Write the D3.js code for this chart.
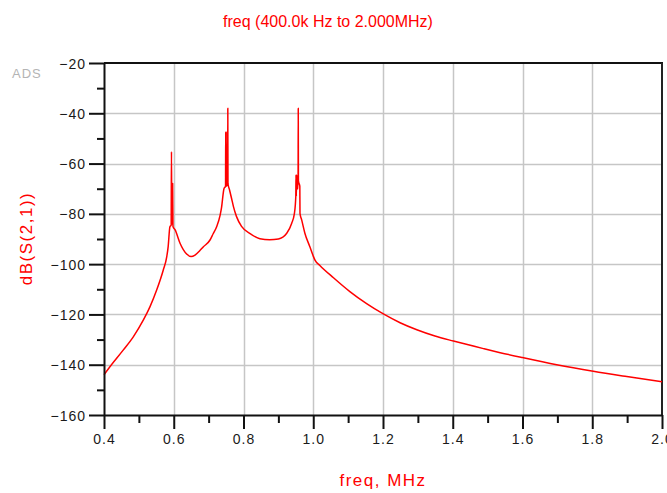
<!DOCTYPE html>
<html>
<head>
<meta charset="utf-8">
<script src="https://cdn.jsdelivr.net/npm/d3@7/dist/d3.min.js"></script>
<style>
  html, body { margin: 0; padding: 0; background: #fff; }
  svg { display: block; font-family: "Liberation Sans", Arial, sans-serif; }
</style>
</head>
<body>
<svg id="chart" width="667" height="493"></svg>
<script>
// ---- data ----
const freqMHz = [0.400, 0.417, 0.455, 0.484, 0.513, 0.532, 0.551, 0.570, 0.580, 0.584,
  0.589, 0.5925, 0.5935, 0.5945, 0.596, 0.5968, 0.5978, 0.604, 0.618, 0.637, 0.650, 0.661,
  0.675, 0.685, 0.704, 0.713, 0.723, 0.733, 0.737, 0.744, 0.7485, 0.749, 0.7495, 0.7505,
  0.751, 0.7545, 0.755, 0.7555, 0.760, 0.766, 0.771, 0.780, 0.795, 0.819, 0.847, 0.875,
  0.900, 0.924, 0.938, 0.946, 0.950, 0.9505, 0.9515, 0.9525, 0.953, 0.9565, 0.957, 0.9575,
  0.9615, 0.962, 0.967, 0.976, 0.990, 1.000, 1.005, 1.019, 1.058, 1.105, 1.153, 1.201,
  1.249, 1.297, 1.349, 1.402, 1.488, 1.536, 1.598, 1.698, 1.803, 1.899, 2.000];
const dbS21 = [-144.0, -140.8, -134.2, -128.9, -122.2, -116.9, -110.3, -102.3, -97.0, -93.0,
  -85.1, -84.5, -55.3, -84.0, -84.0, -67.9, -85.0, -86.4, -91.7, -96.0, -97.0, -96.4,
  -94.6, -93.1, -90.4, -87.9, -85.1, -80.5, -77.5, -70.0, -69.0, -47.3, -69.0, -47.3,
  -69.0, -68.0, -38.0, -68.0, -70.5, -74.0, -77.0, -81.1, -85.1, -87.9, -89.9, -90.3,
  -90.0, -87.7, -83.8, -79.8, -73.0, -64.5, -73.0, -64.5, -70.0, -70.0, -38.0, -67.0,
  -69.0, -79.8, -82.5, -87.7, -93.0, -96.8, -98.4, -100.5, -105.4, -110.9, -115.7, -119.8,
  -123.3, -126.1, -128.6, -130.6, -133.6, -135.2, -137.1, -140.0, -142.6, -144.7, -146.8];
const xMajorTicks = [0.4, 0.6, 0.8, 1.0, 1.2, 1.4, 1.6, 1.8, 2.0];
const xMinorTicks = [0.5, 0.7, 0.9, 1.1, 1.3, 1.5, 1.7, 1.9];
const yMajorTicks = [-20, -40, -60, -80, -100, -120, -140, -160];
const yMinorTicks = [-30, -50, -70, -90, -110, -130, -150];
const titleText = "freq (400.0k Hz to 2.000MHz)";
const xLabel = "freq, MHz";
const yLabel = "dB(S(2,1))";
const cornerText = "ADS";

// ---- layout ----
const W = 667, H = 493;
const m = { left: 104, right: 5, top: 63, bottom: 78 };
const svg = d3.select("#chart");
const x = d3.scaleLinear().domain([0.4, 2.0]).range([m.left, W - m.right]);
const y = d3.scaleLinear().domain([-160, -20]).range([H - m.bottom, m.top]);

// grid
const grid = svg.append("g").attr("stroke", "#c6c6c6").attr("stroke-width", 1.5);
grid.selectAll(".gx").data(xMajorTicks.slice(1, -1)).join("line")
  .attr("x1", d => Math.round(x(d)) + 0.5).attr("x2", d => Math.round(x(d)) + 0.5)
  .attr("y1", y(-20)).attr("y2", y(-160));
grid.selectAll(".gy").data(yMajorTicks.slice(1, -1)).join("line")
  .attr("y1", d => Math.round(y(d)) + 0.5).attr("y2", d => Math.round(y(d)) + 0.5)
  .attr("x1", x(0.4)).attr("x2", x(2.0));

// border top/right
svg.append("line").attr("x1", x(0.4)).attr("x2", x(2.0) + 1).attr("y1", y(-20)).attr("y2", y(-20))
  .attr("stroke", "#111").attr("stroke-width", 2);
svg.append("line").attr("x1", x(2.0)).attr("x2", x(2.0)).attr("y1", y(-20)).attr("y2", y(-160))
  .attr("stroke", "#222").attr("stroke-width", 2);

// data line
const pts = freqMHz.map((f, i) => [f, dbS21[i]]);
const line = d3.line().x(d => x(d[0])).y(d => y(d[1])).curve(d3.curveMonotoneX);
svg.append("path").datum(pts).attr("d", line)
  .attr("fill", "none").attr("stroke", "#ff0000").attr("stroke-width", 1.5)
  .attr("stroke-linejoin", "round");

// axes
function styleAxis(g) {
  g.select(".domain").attr("stroke", "#111").attr("stroke-width", 2);
  g.selectAll(".tick line").attr("stroke", "#111").attr("stroke-width", 2);
  g.selectAll(".tick text").attr("fill", "#1a1a1a").attr("font-size", 14)
    .attr("letter-spacing", "1px").attr("font-family", "'Liberation Sans', Arial, sans-serif");
}
const yAxis = svg.append("g").attr("transform", `translate(${x(0.4)},0)`)
  .call(d3.axisLeft(y).tickValues(yMajorTicks).tickSize(15).tickSizeOuter(0)
    .tickPadding(3).tickFormat(d3.format("d")))
  .call(styleAxis);
yAxis.selectAll(".tick text").attr("dy", "0.36em");
svg.append("g").attr("transform", `translate(${x(0.4)},0)`)
  .call(d3.axisLeft(y).tickValues(yMinorTicks).tickSize(7).tickSizeOuter(0).tickFormat(""))
  .call(styleAxis).select(".domain").remove();

const xAxis = svg.append("g").attr("transform", `translate(0,${y(-160)})`)
  .call(d3.axisBottom(x).tickValues(xMajorTicks).tickSize(14).tickSizeOuter(0)
    .tickPadding(5).tickFormat(d3.format(".1f")))
  .call(styleAxis);
svg.append("g").attr("transform", `translate(0,${y(-160)})`)
  .call(d3.axisBottom(x).tickValues(xMinorTicks).tickSize(8).tickSizeOuter(0).tickFormat(""))
  .call(styleAxis).select(".domain").remove();

// texts
svg.append("text").attr("x", 328).attr("y", 26.5).attr("text-anchor", "middle")
  .attr("fill", "#ff0000").attr("font-size", 16).text(titleText);
svg.append("text").attr("x", (x(0.4) + x(2.0)) / 2).attr("y", 486).attr("text-anchor", "middle")
  .attr("fill", "#ff0000").attr("font-size", 17).attr("letter-spacing", "1.5px").text(xLabel);
svg.append("text").attr("transform", "translate(32,238.5) rotate(-90)").attr("text-anchor", "middle")
  .attr("fill", "#ff0000").attr("font-size", 17).attr("letter-spacing", "1.5px").text(yLabel);
svg.append("text").attr("x", 12).attr("y", 78).attr("fill", "#b4b4b4")
  .attr("font-size", 13).attr("letter-spacing", "1px").text(cornerText);
</script>
</body>
</html>
